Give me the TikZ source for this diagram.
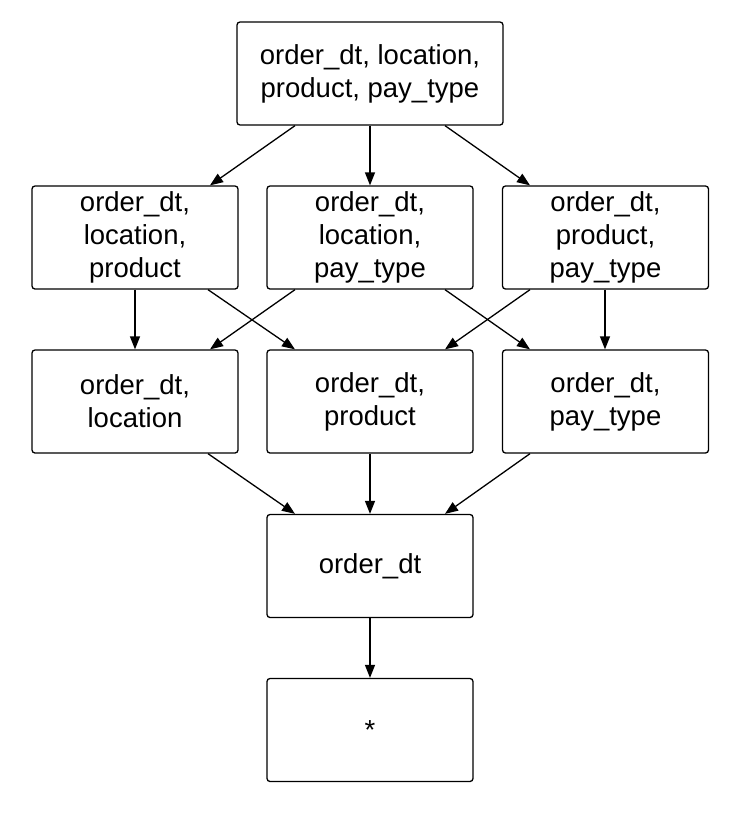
\documentclass[tikz,border=0pt]{standalone}
\usepackage{fontspec}
\setmainfont{Liberation Sans}
\usetikzlibrary{arrows.meta}
\begin{document}
\begin{tikzpicture}[x=1pt,y=-1pt,
  box/.style={draw,line width=1.3pt,rounded corners=3pt,minimum width=206pt,minimum height=103pt,align=center,font=\fontsize{27.5}{33}\selectfont,inner sep=0pt},
  arr/.style={line width=1.3pt,-{Triangle[length=13pt,width=10pt]}}]
\useasboundingbox (0,0) rectangle (742,828);
\node[box,minimum width=266pt] (top) at (370,73.5) {order\_dt, location,\\product, pay\_type};
\node[box] (a1) at (135,237.5) {order\_dt,\\location,\\product};
\node[box] (a2) at (370,237.5) {order\_dt,\\location,\\pay\_type};
\node[box] (a3) at (605.5,237.5) {order\_dt,\\product,\\pay\_type};
\node[box] (b1) at (135,401.5) {order\_dt,\\location};
\node[box] (b2) at (370,401.5) {order\_dt,\\product};
\node[box] (b3) at (605.5,401.5) {order\_dt,\\pay\_type};
\node[box] (c) at (370,566) {order\_dt};
\node[box] (d) at (370,730) {*};
\draw[arr] (top.south -| 295,0) -- (a1.north -| 210,0);
\draw[arr] (top.south) -- (a2.north);
\draw[arr] (top.south -| 445,0) -- (a3.north -| 530,0);
\draw[arr] (a1.south -| 135,0) -- (b1.north -| 135,0);
\draw[arr] (a1.south -| 208,0) -- (b2.north -| 295,0);
\draw[arr] (a2.south -| 295,0) -- (b1.north -| 210,0);
\draw[arr] (a2.south -| 445,0) -- (b3.north -| 530,0);
\draw[arr] (a3.south -| 530,0) -- (b2.north -| 445,0);
\draw[arr] (a3.south -| 605,0) -- (b3.north -| 605,0);
\draw[arr] (b1.south -| 208,0) -- (c.north -| 295,0);
\draw[arr] (b2.south) -- (c.north);
\draw[arr] (b3.south -| 530,0) -- (c.north -| 445,0);
\draw[arr] (c.south) -- (d.north);
\end{tikzpicture}
\end{document}
